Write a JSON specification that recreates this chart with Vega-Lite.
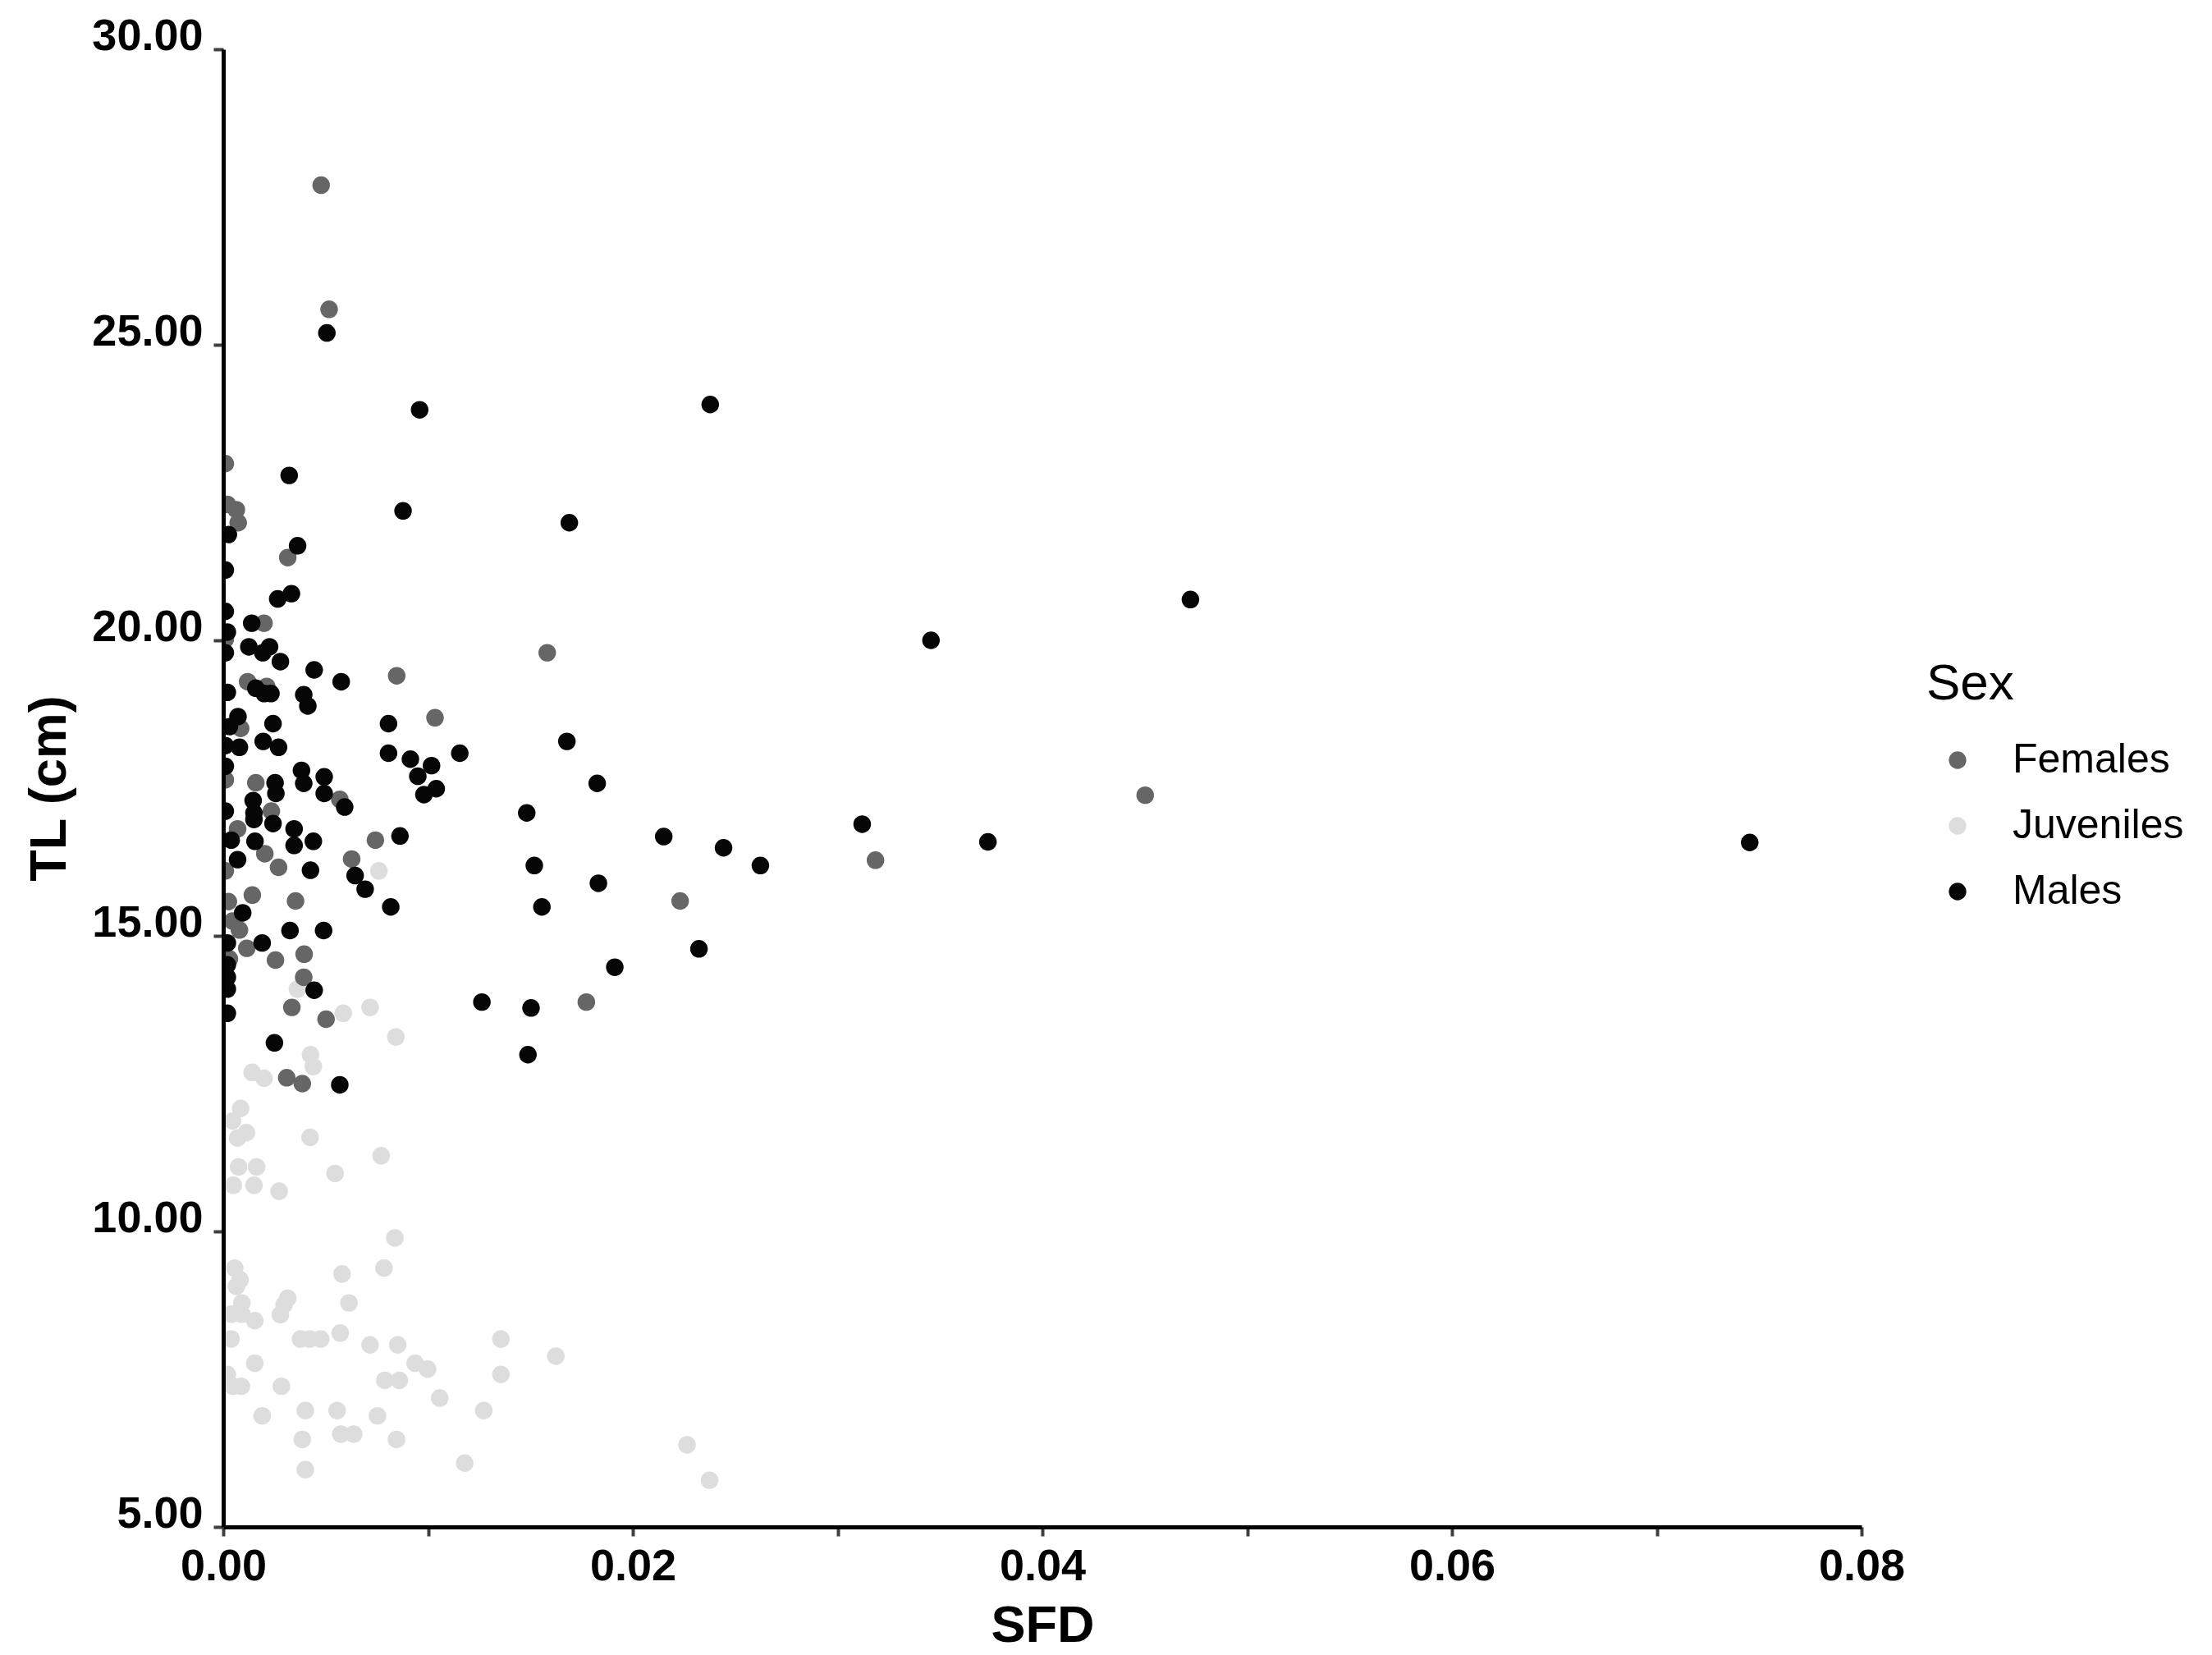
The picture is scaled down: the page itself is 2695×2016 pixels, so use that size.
{
  "$schema": "https://vega.github.io/schema/vega-lite/v6.json",
  "width": 1996,
  "height": 1800,
  "autosize": {"type": "none"},
  "padding": {"left": 272, "top": 60, "right": 427, "bottom": 156},
  "background": "white",
  "config": {"view": {"stroke": null}, "font": "Liberation Sans"},
  "datasets": {
    "pts": [
      {"Sex": "Juveniles", "SFD": 0.00843, "TL": 13.29},
      {"Sex": "Juveniles", "SFD": 0.00717, "TL": 13.79},
      {"Sex": "Juveniles", "SFD": 0.00586, "TL": 13.69},
      {"Sex": "Juveniles", "SFD": 0.00362, "TL": 14.10},
      {"Sex": "Juveniles", "SFD": 0.00760, "TL": 16.10},
      {"Sex": "Juveniles", "SFD": 0.00426, "TL": 12.99},
      {"Sex": "Juveniles", "SFD": 0.00440, "TL": 12.79},
      {"Sex": "Juveniles", "SFD": 0.00141, "TL": 12.69},
      {"Sex": "Juveniles", "SFD": 0.00199, "TL": 12.59},
      {"Sex": "Juveniles", "SFD": 0.00085, "TL": 12.08},
      {"Sex": "Juveniles", "SFD": 0.00045, "TL": 11.87},
      {"Sex": "Juveniles", "SFD": 0.00113, "TL": 11.67},
      {"Sex": "Juveniles", "SFD": 0.00070, "TL": 11.58},
      {"Sex": "Juveniles", "SFD": 0.00424, "TL": 11.59},
      {"Sex": "Juveniles", "SFD": 0.00771, "TL": 11.28},
      {"Sex": "Juveniles", "SFD": 0.00075, "TL": 11.09},
      {"Sex": "Juveniles", "SFD": 0.00163, "TL": 11.09},
      {"Sex": "Juveniles", "SFD": 0.00546, "TL": 10.98},
      {"Sex": "Juveniles", "SFD": 0.00049, "TL": 10.78},
      {"Sex": "Juveniles", "SFD": 0.00150, "TL": 10.78},
      {"Sex": "Juveniles", "SFD": 0.00273, "TL": 10.68},
      {"Sex": "Juveniles", "SFD": 0.00838, "TL": 9.89},
      {"Sex": "Juveniles", "SFD": 0.00056, "TL": 9.38},
      {"Sex": "Juveniles", "SFD": 0.00785, "TL": 9.38},
      {"Sex": "Juveniles", "SFD": 0.00580, "TL": 9.28},
      {"Sex": "Juveniles", "SFD": 0.00082, "TL": 9.18},
      {"Sex": "Juveniles", "SFD": 0.00064, "TL": 9.07},
      {"Sex": "Juveniles", "SFD": 0.00315, "TL": 8.87},
      {"Sex": "Juveniles", "SFD": 0.00297, "TL": 8.76},
      {"Sex": "Juveniles", "SFD": 0.00091, "TL": 8.79},
      {"Sex": "Juveniles", "SFD": 0.00614, "TL": 8.79},
      {"Sex": "Juveniles", "SFD": 0.00038, "TL": 8.60},
      {"Sex": "Juveniles", "SFD": 0.00091, "TL": 8.60},
      {"Sex": "Juveniles", "SFD": 0.00154, "TL": 8.49},
      {"Sex": "Juveniles", "SFD": 0.00279, "TL": 8.59},
      {"Sex": "Juveniles", "SFD": 0.00038, "TL": 8.18},
      {"Sex": "Juveniles", "SFD": 0.00377, "TL": 8.18},
      {"Sex": "Juveniles", "SFD": 0.00422, "TL": 8.18},
      {"Sex": "Juveniles", "SFD": 0.00476, "TL": 8.18},
      {"Sex": "Juveniles", "SFD": 0.00571, "TL": 8.28},
      {"Sex": "Juveniles", "SFD": 0.00717, "TL": 8.08},
      {"Sex": "Juveniles", "SFD": 0.00852, "TL": 8.08},
      {"Sex": "Juveniles", "SFD": 0.01356, "TL": 8.18},
      {"Sex": "Juveniles", "SFD": 0.01624, "TL": 7.89},
      {"Sex": "Juveniles", "SFD": 0.00154, "TL": 7.77},
      {"Sex": "Juveniles", "SFD": 0.00937, "TL": 7.77},
      {"Sex": "Juveniles", "SFD": 0.00998, "TL": 7.67},
      {"Sex": "Juveniles", "SFD": 0.01356, "TL": 7.58},
      {"Sex": "Juveniles", "SFD": 0.00020, "TL": 7.58},
      {"Sex": "Juveniles", "SFD": 0.00047, "TL": 7.38},
      {"Sex": "Juveniles", "SFD": 0.00088, "TL": 7.38},
      {"Sex": "Juveniles", "SFD": 0.00284, "TL": 7.38},
      {"Sex": "Juveniles", "SFD": 0.00789, "TL": 7.48},
      {"Sex": "Juveniles", "SFD": 0.00860, "TL": 7.48},
      {"Sex": "Juveniles", "SFD": 0.01057, "TL": 7.18},
      {"Sex": "Juveniles", "SFD": 0.00190, "TL": 6.88},
      {"Sex": "Juveniles", "SFD": 0.00401, "TL": 6.97},
      {"Sex": "Juveniles", "SFD": 0.00556, "TL": 6.97},
      {"Sex": "Juveniles", "SFD": 0.00753, "TL": 6.88},
      {"Sex": "Juveniles", "SFD": 0.01272, "TL": 6.97},
      {"Sex": "Juveniles", "SFD": 0.00386, "TL": 6.48},
      {"Sex": "Juveniles", "SFD": 0.00574, "TL": 6.57},
      {"Sex": "Juveniles", "SFD": 0.00637, "TL": 6.57},
      {"Sex": "Juveniles", "SFD": 0.00846, "TL": 6.48},
      {"Sex": "Juveniles", "SFD": 0.01179, "TL": 6.08},
      {"Sex": "Juveniles", "SFD": 0.00401, "TL": 5.97},
      {"Sex": "Juveniles", "SFD": 0.02265, "TL": 6.39},
      {"Sex": "Juveniles", "SFD": 0.02375, "TL": 5.79},
      {"Sex": "Females", "SFD": 0.00478, "TL": 27.70},
      {"Sex": "Females", "SFD": 0.00517, "TL": 25.60},
      {"Sex": "Females", "SFD": 0.00010, "TL": 22.99},
      {"Sex": "Females", "SFD": 0.00064, "TL": 22.21},
      {"Sex": "Females", "SFD": 0.00073, "TL": 21.99},
      {"Sex": "Females", "SFD": 0.00020, "TL": 22.30},
      {"Sex": "Females", "SFD": 0.00315, "TL": 21.40},
      {"Sex": "Females", "SFD": 0.00199, "TL": 20.29},
      {"Sex": "Females", "SFD": 0.00010, "TL": 20.02},
      {"Sex": "Females", "SFD": 0.00119, "TL": 19.30},
      {"Sex": "Females", "SFD": 0.00212, "TL": 19.22},
      {"Sex": "Females", "SFD": 0.00847, "TL": 19.40},
      {"Sex": "Females", "SFD": 0.01582, "TL": 19.79},
      {"Sex": "Females", "SFD": 0.01034, "TL": 18.69},
      {"Sex": "Females", "SFD": 0.00085, "TL": 18.51},
      {"Sex": "Females", "SFD": 0.00010, "TL": 17.64},
      {"Sex": "Females", "SFD": 0.00159, "TL": 17.59},
      {"Sex": "Females", "SFD": 0.00569, "TL": 17.31},
      {"Sex": "Females", "SFD": 0.00235, "TL": 17.11},
      {"Sex": "Females", "SFD": 0.00070, "TL": 16.81},
      {"Sex": "Females", "SFD": 0.00203, "TL": 16.39},
      {"Sex": "Females", "SFD": 0.00270, "TL": 16.16},
      {"Sex": "Females", "SFD": 0.00743, "TL": 16.62},
      {"Sex": "Females", "SFD": 0.00627, "TL": 16.30},
      {"Sex": "Females", "SFD": 0.00010, "TL": 16.10},
      {"Sex": "Females", "SFD": 0.00142, "TL": 15.69},
      {"Sex": "Females", "SFD": 0.00353, "TL": 15.59},
      {"Sex": "Females", "SFD": 0.00025, "TL": 15.58},
      {"Sex": "Females", "SFD": 0.00045, "TL": 15.25},
      {"Sex": "Females", "SFD": 0.00079, "TL": 15.10},
      {"Sex": "Females", "SFD": 0.00115, "TL": 14.79},
      {"Sex": "Females", "SFD": 0.00030, "TL": 14.61},
      {"Sex": "Females", "SFD": 0.00255, "TL": 14.59},
      {"Sex": "Females", "SFD": 0.00395, "TL": 14.69},
      {"Sex": "Females", "SFD": 0.00393, "TL": 14.30},
      {"Sex": "Females", "SFD": 0.00335, "TL": 13.79},
      {"Sex": "Females", "SFD": 0.00502, "TL": 13.59},
      {"Sex": "Females", "SFD": 0.00310, "TL": 12.60},
      {"Sex": "Females", "SFD": 0.00386, "TL": 12.50},
      {"Sex": "Females", "SFD": 0.04502, "TL": 17.38},
      {"Sex": "Females", "SFD": 0.03185, "TL": 16.28},
      {"Sex": "Females", "SFD": 0.02231, "TL": 15.59},
      {"Sex": "Females", "SFD": 0.01773, "TL": 13.88},
      {"Sex": "Males", "SFD": 0.00506, "TL": 25.20},
      {"Sex": "Males", "SFD": 0.00959, "TL": 23.90},
      {"Sex": "Males", "SFD": 0.02378, "TL": 23.99},
      {"Sex": "Males", "SFD": 0.00322, "TL": 22.79},
      {"Sex": "Males", "SFD": 0.00878, "TL": 22.19},
      {"Sex": "Males", "SFD": 0.01690, "TL": 21.99},
      {"Sex": "Males", "SFD": 0.00025, "TL": 21.79},
      {"Sex": "Males", "SFD": 0.00363, "TL": 21.60},
      {"Sex": "Males", "SFD": 0.00010, "TL": 21.19},
      {"Sex": "Males", "SFD": 0.00333, "TL": 20.79},
      {"Sex": "Males", "SFD": 0.00266, "TL": 20.70},
      {"Sex": "Males", "SFD": 0.04723, "TL": 20.69},
      {"Sex": "Males", "SFD": 0.00010, "TL": 20.49},
      {"Sex": "Males", "SFD": 0.00139, "TL": 20.29},
      {"Sex": "Males", "SFD": 0.00020, "TL": 20.14},
      {"Sex": "Males", "SFD": 0.03456, "TL": 20.00},
      {"Sex": "Males", "SFD": 0.00010, "TL": 19.79},
      {"Sex": "Males", "SFD": 0.00125, "TL": 19.89},
      {"Sex": "Males", "SFD": 0.00226, "TL": 19.89},
      {"Sex": "Males", "SFD": 0.00193, "TL": 19.79},
      {"Sex": "Males", "SFD": 0.00279, "TL": 19.64},
      {"Sex": "Males", "SFD": 0.00444, "TL": 19.50},
      {"Sex": "Males", "SFD": 0.00576, "TL": 19.30},
      {"Sex": "Males", "SFD": 0.00159, "TL": 19.19},
      {"Sex": "Males", "SFD": 0.00020, "TL": 19.12},
      {"Sex": "Males", "SFD": 0.00200, "TL": 19.10},
      {"Sex": "Males", "SFD": 0.00233, "TL": 19.10},
      {"Sex": "Males", "SFD": 0.00393, "TL": 19.08},
      {"Sex": "Males", "SFD": 0.00413, "TL": 18.89},
      {"Sex": "Males", "SFD": 0.00072, "TL": 18.71},
      {"Sex": "Males", "SFD": 0.00030, "TL": 18.54},
      {"Sex": "Males", "SFD": 0.00243, "TL": 18.59},
      {"Sex": "Males", "SFD": 0.00807, "TL": 18.59},
      {"Sex": "Males", "SFD": 0.01678, "TL": 18.29},
      {"Sex": "Males", "SFD": 0.00079, "TL": 18.19},
      {"Sex": "Males", "SFD": 0.00195, "TL": 18.29},
      {"Sex": "Males", "SFD": 0.00270, "TL": 18.19},
      {"Sex": "Males", "SFD": 0.00807, "TL": 18.09},
      {"Sex": "Males", "SFD": 0.01155, "TL": 18.09},
      {"Sex": "Males", "SFD": 0.00914, "TL": 17.99},
      {"Sex": "Males", "SFD": 0.00010, "TL": 18.22},
      {"Sex": "Males", "SFD": 0.00010, "TL": 17.87},
      {"Sex": "Males", "SFD": 0.00382, "TL": 17.80},
      {"Sex": "Males", "SFD": 0.00393, "TL": 17.58},
      {"Sex": "Males", "SFD": 0.00493, "TL": 17.69},
      {"Sex": "Males", "SFD": 0.00493, "TL": 17.41},
      {"Sex": "Males", "SFD": 0.00253, "TL": 17.59},
      {"Sex": "Males", "SFD": 0.00257, "TL": 17.41},
      {"Sex": "Males", "SFD": 0.01017, "TL": 17.88},
      {"Sex": "Males", "SFD": 0.00950, "TL": 17.70},
      {"Sex": "Males", "SFD": 0.01040, "TL": 17.49},
      {"Sex": "Males", "SFD": 0.00980, "TL": 17.39},
      {"Sex": "Males", "SFD": 0.01826, "TL": 17.58},
      {"Sex": "Males", "SFD": 0.00593, "TL": 17.18},
      {"Sex": "Males", "SFD": 0.00010, "TL": 17.11},
      {"Sex": "Males", "SFD": 0.00146, "TL": 17.29},
      {"Sex": "Males", "SFD": 0.00150, "TL": 17.08},
      {"Sex": "Males", "SFD": 0.00150, "TL": 16.97},
      {"Sex": "Males", "SFD": 0.00243, "TL": 16.90},
      {"Sex": "Males", "SFD": 0.00346, "TL": 16.81},
      {"Sex": "Males", "SFD": 0.01482, "TL": 17.08},
      {"Sex": "Males", "SFD": 0.03120, "TL": 16.89},
      {"Sex": "Males", "SFD": 0.00039, "TL": 16.62},
      {"Sex": "Males", "SFD": 0.00155, "TL": 16.60},
      {"Sex": "Males", "SFD": 0.00346, "TL": 16.53},
      {"Sex": "Males", "SFD": 0.00440, "TL": 16.60},
      {"Sex": "Males", "SFD": 0.00863, "TL": 16.69},
      {"Sex": "Males", "SFD": 0.02151, "TL": 16.68},
      {"Sex": "Males", "SFD": 0.03734, "TL": 16.59},
      {"Sex": "Males", "SFD": 0.07454, "TL": 16.58},
      {"Sex": "Males", "SFD": 0.02443, "TL": 16.49},
      {"Sex": "Males", "SFD": 0.00070, "TL": 16.29},
      {"Sex": "Males", "SFD": 0.00426, "TL": 16.11},
      {"Sex": "Males", "SFD": 0.00644, "TL": 16.02},
      {"Sex": "Males", "SFD": 0.00693, "TL": 15.79},
      {"Sex": "Males", "SFD": 0.01519, "TL": 16.19},
      {"Sex": "Males", "SFD": 0.02623, "TL": 16.19},
      {"Sex": "Males", "SFD": 0.00818, "TL": 15.49},
      {"Sex": "Males", "SFD": 0.01832, "TL": 15.89},
      {"Sex": "Males", "SFD": 0.01556, "TL": 15.49},
      {"Sex": "Males", "SFD": 0.00095, "TL": 15.39},
      {"Sex": "Males", "SFD": 0.00326, "TL": 15.09},
      {"Sex": "Males", "SFD": 0.00490, "TL": 15.09},
      {"Sex": "Males", "SFD": 0.00020, "TL": 14.88},
      {"Sex": "Males", "SFD": 0.00190, "TL": 14.88},
      {"Sex": "Males", "SFD": 0.00020, "TL": 14.51},
      {"Sex": "Males", "SFD": 0.00020, "TL": 14.30},
      {"Sex": "Males", "SFD": 0.00020, "TL": 14.10},
      {"Sex": "Males", "SFD": 0.00444, "TL": 14.08},
      {"Sex": "Males", "SFD": 0.00020, "TL": 13.69},
      {"Sex": "Males", "SFD": 0.00250, "TL": 13.19},
      {"Sex": "Males", "SFD": 0.00569, "TL": 12.48},
      {"Sex": "Males", "SFD": 0.02323, "TL": 14.78},
      {"Sex": "Males", "SFD": 0.01912, "TL": 14.47},
      {"Sex": "Males", "SFD": 0.01503, "TL": 13.78},
      {"Sex": "Males", "SFD": 0.01263, "TL": 13.88},
      {"Sex": "Males", "SFD": 0.01488, "TL": 12.99}
    ]
  },
  "data": {"name": "pts"},
  "mark": {"type": "circle", "size": 460, "opacity": 1, "clip": true},
  "encoding": {
    "x": {
      "field": "SFD",
      "type": "quantitative",
      "scale": {"domain": [0, 0.08], "nice": false, "zero": false},
      "axis": {
        "title": "SFD",
        "values": [0, 0.01, 0.02, 0.03, 0.04, 0.05, 0.06, 0.07, 0.08],
        "labelExpr": "round(datum.value * 100) % 2 == 0 ? format(datum.value, '.2f') : ''",
        "labelFont": "Liberation Sans",
        "labelFontSize": 54,
        "labelFontWeight": "bold",
        "labelColor": "black",
        "labelFlush": false,
        "labelOverlap": false,
        "labelPadding": 10,
        "titleFont": "Liberation Sans",
        "titleFontSize": 63,
        "titleFontWeight": "bold",
        "titleColor": "black",
        "titleBaseline": "alphabetic",
        "titleX": 998,
        "titleY": 139,
        "domainColor": "black",
        "domainWidth": 5,
        "tickColor": "#404040",
        "tickWidth": 4,
        "tickSize": 11,
        "grid": false,
        "zindex": 1
      }
    },
    "y": {
      "field": "TL",
      "type": "quantitative",
      "scale": {"domain": [5, 30], "nice": false, "zero": false},
      "axis": {
        "title": "TL (cm)",
        "values": [5, 10, 15, 20, 25, 30],
        "format": ".2f",
        "labelFont": "Liberation Sans",
        "labelFontSize": 54,
        "labelFontWeight": "bold",
        "labelColor": "black",
        "labelBaseline": "alphabetic",
        "labelFlush": false,
        "labelOverlap": false,
        "labelPadding": 13,
        "titleFont": "Liberation Sans",
        "titleFontSize": 63,
        "titleFontWeight": "bold",
        "titleColor": "black",
        "titleBaseline": "alphabetic",
        "titleAngle": 270,
        "titleAlign": "center",
        "titleX": -193,
        "titleY": 900,
        "domainColor": "black",
        "domainWidth": 5,
        "tickColor": "#404040",
        "tickWidth": 4,
        "tickSize": 12,
        "grid": false,
        "zindex": 1
      }
    },
    "color": {
      "field": "Sex",
      "type": "nominal",
      "scale": {"domain": ["Females", "Juveniles", "Males"], "range": ["#666666", "#dddddd", "#060606"]},
      "legend": {
        "title": "Sex",
        "orient": "none",
        "legendX": 2075,
        "legendY": 743,
        "padding": 0,
        "titleFont": "Liberation Sans",
        "titleFontSize": 62,
        "titleFontWeight": "normal",
        "titleColor": "black",
        "titlePadding": 36,
        "labelFont": "Liberation Sans",
        "labelFontSize": 50,
        "labelColor": "black",
        "labelLimit": 600,
        "labelOffset": 42,
        "symbolType": "circle",
        "symbolSize": 452,
        "symbolStrokeWidth": 0,
        "symbolOpacity": 1,
        "symbolOffset": 13,
        "rowPadding": 30
      }
    }
  }
}
